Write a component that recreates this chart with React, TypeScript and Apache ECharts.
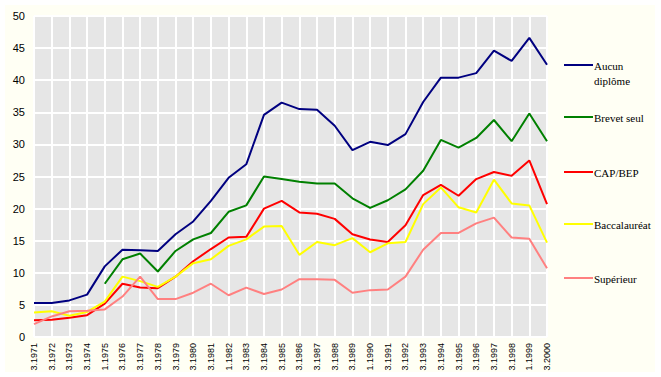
import React, { useEffect, useRef } from "react";
import * as echarts from "echarts";

const categories = [
  "3.1971", "3.1972", "3.1973", "3.1974", "1.1975", "3.1976", "3.1977", "3.1978", "3.1979", "3.1980",
  "3.1981", "1.1982", "3.1983", "3.1984", "3.1985", "3.1986", "3.1987", "3.1988", "3.1989", "1.1990",
  "3.1991", "3.1992", "3.1993", "3.1994", "3.1995", "3.1996", "3.1997", "3.1998", "1.1999", "3.2000",
];

const aucunDiplome = [
  5.3, 5.3, 5.7, 6.6, 11.0, 13.6, 13.5, 13.4, 16.0, 18.0,
  21.2, 24.8, 26.9, 34.6, 36.5, 35.5, 35.4, 32.9, 29.1, 30.4,
  29.9, 31.6, 36.6, 40.4, 40.4, 41.1, 44.6, 43.0, 46.6, 42.4,
];

const brevetSeul = [
  null, null, null, null, 8.3, 12.1, 13.0, 10.2, 13.4, 15.2,
  16.2, 19.5, 20.5, 25.0, 24.6, 24.2, 23.9, 23.9, 21.6, 20.1,
  21.3, 23.0, 25.9, 30.7, 29.5, 31.0, 33.8, 30.5, 34.8, 30.5,
];

const capBep = [
  2.6, 2.7, 3.0, 3.4, 5.2, 8.3, 7.7, 7.6, 9.4, 11.8,
  13.7, 15.5, 15.6, 20.0, 21.2, 19.4, 19.2, 18.4, 16.0, 15.2,
  14.8, 17.4, 22.1, 23.7, 22.0, 24.6, 25.7, 25.1, 27.5, 20.7,
];

const baccalaureat = [
  3.8, 4.0, 3.3, 3.9, 5.5, 9.4, 8.7, 7.8, 9.4, 11.5,
  12.1, 14.2, 15.2, 17.2, 17.3, 12.8, 14.8, 14.3, 15.4, 13.2,
  14.6, 14.8, 20.7, 23.3, 20.2, 19.4, 24.5, 20.8, 20.5, 14.7,
];

const superieur = [
  2.0, 3.2, 4.0, 4.1, 4.3, 6.3, 9.4, 5.9, 5.9, 6.9,
  8.3, 6.5, 7.7, 6.7, 7.4, 9.0, 9.0, 8.9, 6.9, 7.3,
  7.4, 9.4, 13.6, 16.2, 16.2, 17.7, 18.6, 15.5, 15.3, 10.7,
];

const seriesNames = ["Aucun diplôme", "Brevet seul", "CAP/BEP", "Baccalauréat", "Supérieur"];
const legendLabels = ["Aucun\ndiplôme", "Brevet seul", "CAP/BEP", "Baccalauréat", "Supérieur"];
const seriesData = [aucunDiplome, brevetSeul, capBep, baccalaureat, superieur];
const seriesColors = ["#000080", "#008000", "#ff0000", "#ffff00", "#ff8080"];

const yTicks = { min: 0, max: 50, interval: 5 };

const legendYs = [65, 117, 172, 224, 278];

export default function App() {
  const ref = useRef<HTMLDivElement>(null);

  useEffect(() => {
    if (!ref.current) return;
    const chart = echarts.init(ref.current, null, { renderer: "svg" });

    const legendGraphics: any[] = [];
    seriesNames.forEach((_, i) => {
      const y = legendYs[i];
      legendGraphics.push({
        type: "line",
        silent: true,
        shape: { x1: 564, y1: y, x2: 593, y2: y },
        style: { stroke: seriesColors[i], lineWidth: 2 },
      });
      legendGraphics.push({
        type: "text",
        silent: true,
        x: 594,
        y: y - 7,
        style: {
          text: legendLabels[i],
          font: "normal 11px Liberation Serif, Times New Roman, serif",
          fill: "#000000",
          lineHeight: 15,
          verticalAlign: "top",
        },
      });
    });

    chart.setOption({
      animation: false,
      backgroundColor: "transparent",
      grid: {
        left: 34,
        right: 114,
        top: 16,
        bottom: 40,
        show: true,
        backgroundColor: "#e6e6e6",
        borderWidth: 0,
        containLabel: false,
      },
      xAxis: {
        type: "category",
        data: categories,
        boundaryGap: false,
        axisLine: { show: false },
        axisTick: { show: false },
        axisLabel: {
          rotate: 90,
          interval: 0,
          fontSize: 9,
          color: "#000000",
          margin: 6,
          fontFamily: "Liberation Sans, Arial, sans-serif",
        },
        splitLine: { show: true, interval: 0, lineStyle: { color: "#ffffff", width: 2 } },
      },
      yAxis: {
        type: "value",
        min: yTicks.min,
        max: yTicks.max,
        interval: yTicks.interval,
        axisLine: { show: false },
        axisTick: { show: false },
        axisLabel: {
          fontSize: 11,
          color: "#000000",
          margin: 9,
          fontFamily: "Liberation Sans, Arial, sans-serif",
        },
        splitLine: { show: true, lineStyle: { color: "#ffffff", width: 2 } },
      },
      series: seriesNames.map((name, i) => ({
        name,
        type: "line",
        data: seriesData[i],
        showSymbol: false,
        symbol: "none",
        connectNulls: false,
        lineStyle: { color: seriesColors[i], width: 2 },
        itemStyle: { color: seriesColors[i] },
      })),
      graphic: legendGraphics,
    });

    return () => chart.dispose();
  }, []);

  return (
    <div
      style={{
        position: "fixed",
        left: 0,
        top: 0,
        width: 661,
        height: 377,
        background: "#ffffff",
      }}
    >
      <div
        style={{
          position: "absolute",
          left: 5,
          top: 5,
          width: 650,
          height: 367,
          background: "#fffff4",
        }}
      />
      <div ref={ref} style={{ position: "absolute", left: 0, top: 0, width: 661, height: 377 }} />
    </div>
  );
}
